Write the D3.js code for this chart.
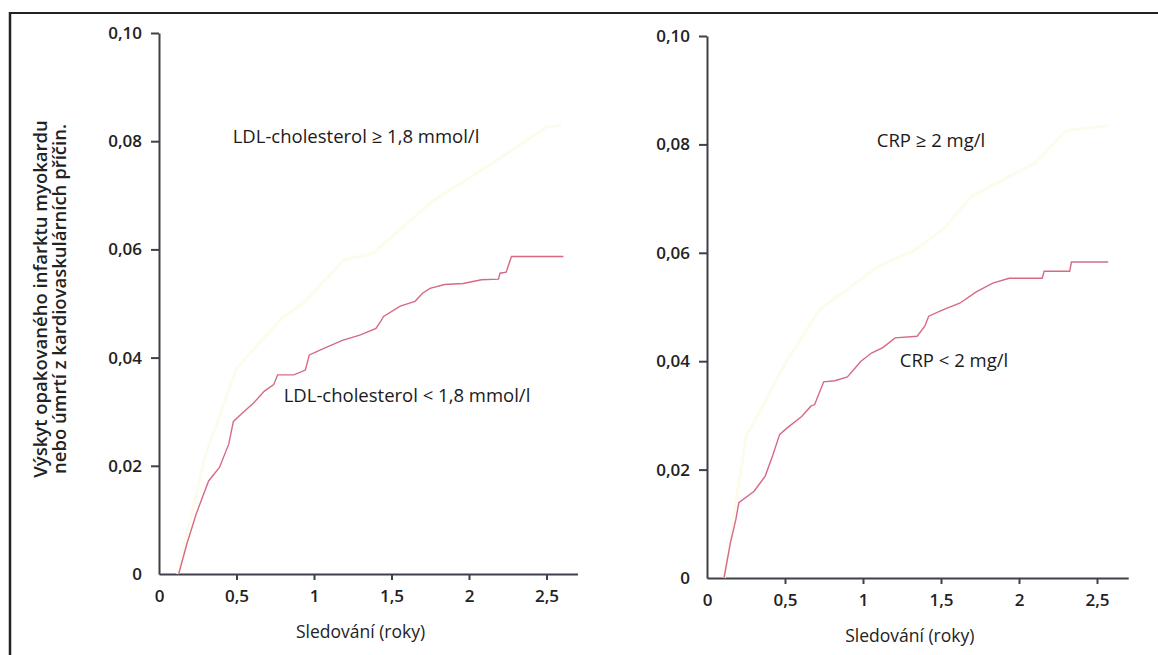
<!DOCTYPE html>
<html>
<head>
<meta charset="utf-8">
<script src="https://cdn.jsdelivr.net/npm/d3@7"></script>
<style>
  body { margin: 0; background: #fff; }
  svg { display: block; font-family: "Open Sans", "DejaVu Sans", sans-serif; }
  .axis path, .axis line { stroke: #3d4149; stroke-width: 2; }
  .axis text { font-size: 17px; font-weight: 600; fill: #222; font-family: "Open Sans", sans-serif; }
</style>
</head>
<body>
<script>
// x ticks / y ticks
var xTicks = [0, 0.5, 1, 1.5, 2, 2.5];
var yTicks = [0, 0.02, 0.04, 0.06, 0.08, 0.10];

// left panel: LDL-cholesterol < 1,8 mmol/l (pink)
var ldlTime = [0.127, 0.18, 0.24, 0.32, 0.39, 0.45, 0.48, 0.54, 0.61, 0.68, 0.74, 0.765, 0.87, 0.944, 0.97,
               1.064, 1.183, 1.30, 1.40, 1.434, 1.449, 1.556, 1.652, 1.70, 1.748, 1.843, 1.963, 2.08, 2.19,
               2.20, 2.24, 2.274, 2.609];
var ldlLow = [0, 0.0056, 0.0111, 0.0172, 0.0197, 0.024, 0.0282, 0.0298, 0.0316, 0.0338, 0.035, 0.0368, 0.0368,
              0.0377, 0.0405, 0.0417, 0.0432, 0.0442, 0.0454, 0.0469, 0.0476, 0.0495, 0.0504, 0.0519, 0.0528,
              0.0535, 0.0537, 0.0544, 0.0545, 0.0556, 0.0558, 0.0587, 0.0587];
// LDL-cholesterol >= 1,8 mmol/l (almost faded out in the print)
var ldlHighTime = [0.12, 0.3, 0.5, 0.8, 0.93, 1.19, 1.38, 1.77, 2.1, 2.5, 2.6];
var ldlHigh = [0, 0.022, 0.038, 0.0475, 0.05, 0.058, 0.0593, 0.069, 0.075, 0.0826, 0.083];

// right panel: CRP < 2 mg/l (pink)
var crpTime = [0.109, 0.15, 0.185, 0.204, 0.302, 0.373, 0.42, 0.466, 0.514, 0.607, 0.666, 0.69, 0.748, 0.82,
               0.90, 0.987, 1.054, 1.127, 1.206, 1.347, 1.397, 1.421, 1.515, 1.62, 1.726, 1.832, 1.937, 2.149,
               2.161, 2.325, 2.336, 2.572];
var crpLow = [0, 0.0065, 0.0108, 0.0139, 0.016, 0.0188, 0.0225, 0.0265, 0.0277, 0.0298, 0.0317, 0.032, 0.0362,
              0.0364, 0.0371, 0.04, 0.0415, 0.0425, 0.0443, 0.0446, 0.0465, 0.0483, 0.0495, 0.0507, 0.0528,
              0.0544, 0.0553, 0.0553, 0.0566, 0.0566, 0.0583, 0.0583];
// CRP >= 2 mg/l (faded)
var crpHighTime = [0.11, 0.25, 0.51, 0.72, 1.1, 1.33, 1.52, 1.7, 2.1, 2.3, 2.57];
var crpHigh = [0, 0.026, 0.04, 0.0495, 0.0575, 0.0605, 0.0645, 0.0705, 0.0765, 0.0825, 0.0835];

var svg = d3.select("body").append("svg")
    .attr("width", 1158)
    .attr("height", 655);

// frame lines (top and left)
svg.append("line").attr("x1", 9).attr("x2", 1158).attr("y1", 13).attr("y2", 13)
    .attr("stroke", "#222").attr("stroke-width", 2);
svg.append("line").attr("x1", 10).attr("x2", 10).attr("y1", 12).attr("y2", 655)
    .attr("stroke", "#222").attr("stroke-width", 2.5);

// y axis title
var yt = svg.append("text")
    .attr("transform", "translate(47,299) rotate(-90)")
    .attr("text-anchor", "middle")
    .style("font-size", "18.5px").style("font-weight", "600").style("fill", "#222");
yt.append("tspan").attr("x", 0).attr("dy", 0).text("Výskyt opakovaného infarktu myokardu");
yt.append("tspan").attr("x", 0).attr("dy", 19).text("nebo úmrtí z kardiovaskulárních příčin.");

function panel(opt) {
    var x = d3.scaleLinear().domain([0, 2.7]).range([opt.x0, opt.x0 + 2.7 * opt.kx]);
    var y = d3.scaleLinear().domain([0, 0.1]).range([opt.y0, opt.y1]);
    var g = svg.append("g");

    var xa = g.append("g").attr("class", "axis")
        .attr("transform", "translate(0," + opt.y0 + ")")
        .call(d3.axisBottom(x).tickValues(xTicks).tickSize(6).tickSizeOuter(0)
              .tickPadding(10).tickFormat(function(d) { return String(d).replace(".", ","); }));
    xa.selectAll(".tick").filter(function(d) { return d === 0; }).select("line").remove();

    var ya = g.append("g").attr("class", "axis")
        .attr("transform", "translate(" + opt.x0 + ",0)")
        .call(d3.axisLeft(y).tickValues(yTicks).tickSize(8).tickSizeOuter(0)
              .tickPadding(9).tickFormat(function(d) { return d === 0 ? "0" : d3.format(".2f")(d).replace(".", ","); }));
    ya.selectAll(".tick").filter(function(d) { return d === 0; }).select("line").remove();

    var line = d3.line()
        .x(function(d) { return x(d[0]); })
        .y(function(d) { return y(d[1]); });

    g.append("path")
        .attr("d", line(d3.zip(opt.highT, opt.high)))
        .attr("fill", "none").attr("stroke", "#fdfbec").attr("stroke-width", 3);
    g.append("path")
        .attr("d", line(d3.zip(opt.lowT, opt.low)))
        .attr("fill", "none").attr("stroke", "#d66a83").attr("stroke-width", 1.4);

    g.append("text").attr("x", opt.hiLabel[0]).attr("y", opt.hiLabel[1])
        .attr("text-anchor", "middle").attr("dy", "0.35em")
        .style("font-size", opt.fs + "px").style("fill", "#1a1a1a")
        .text(opt.hiText);
    g.append("text").attr("x", opt.loLabel[0]).attr("y", opt.loLabel[1])
        .attr("text-anchor", "middle").attr("dy", "0.35em")
        .style("font-size", opt.fs + "px").style("fill", "#1a1a1a")
        .text(opt.loText);

    g.append("text").attr("x", x(1.3)).attr("y", opt.y0 + 58)
        .attr("text-anchor", "middle").attr("dy", "0.35em")
        .style("font-size", "17.5px").style("fill", "#222")
        .text("Sledování (roky)");
}

panel({ x0: 159, kx: 155, y0: 574, y1: 33,
        lowT: ldlTime, low: ldlLow, highT: ldlHighTime, high: ldlHigh,
        hiText: "LDL-cholesterol ≥ 1,8 mmol/l", hiLabel: [356, 137],
        loText: "LDL-cholesterol < 1,8 mmol/l", loLabel: [407, 396], fs: 18.5 });

panel({ x0: 707, kx: 156, y0: 578, y1: 36,
        lowT: crpTime, low: crpLow, highT: crpHighTime, high: crpHigh,
        hiText: "CRP ≥ 2 mg/l", hiLabel: [931, 141],
        loText: "CRP < 2 mg/l", loLabel: [954, 361], fs: 18.5 });
</script>
</body>
</html>
